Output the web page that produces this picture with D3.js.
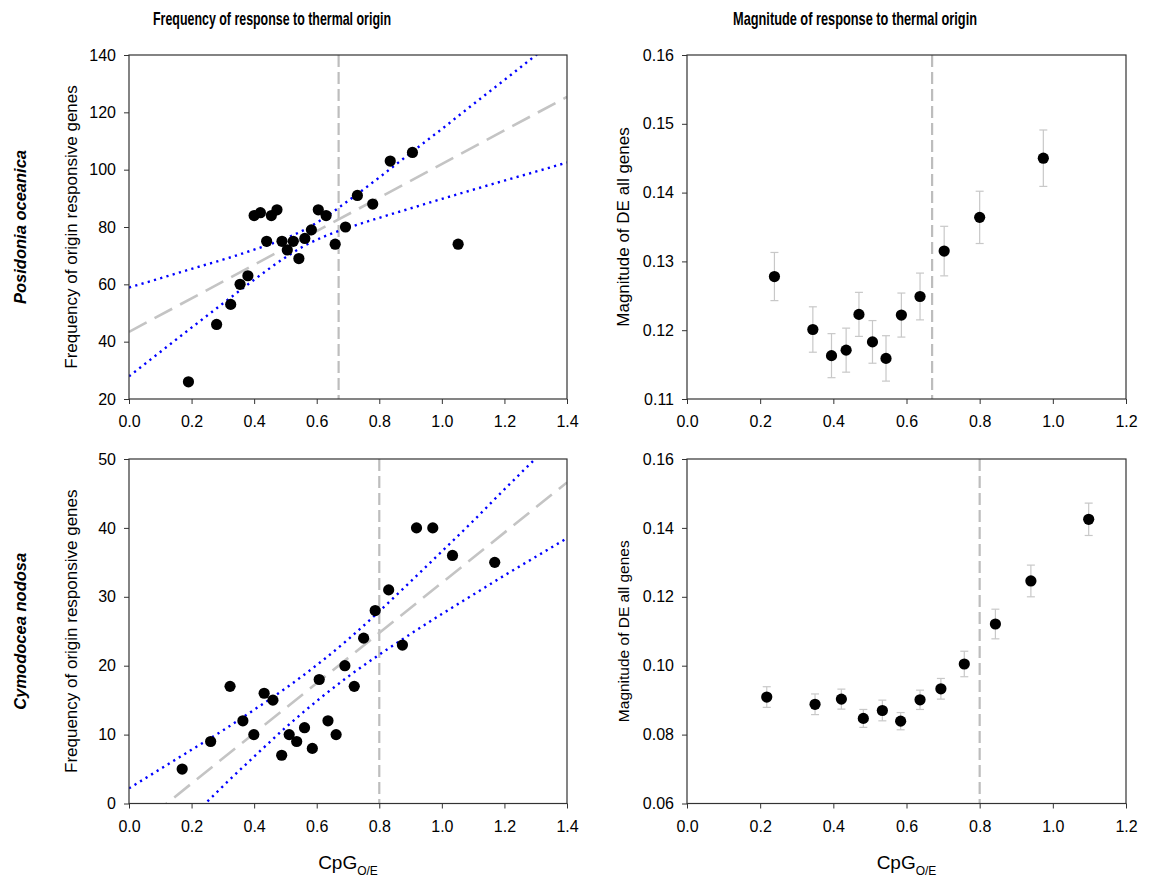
<!DOCTYPE html>
<html><head><meta charset="utf-8">
<script src="https://cdn.jsdelivr.net/npm/d3@7"></script>
<style>
body{margin:0;background:#fff}
text{font-family:"Liberation Sans",Arial,Helvetica,sans-serif;fill:#000}
</style>
</head><body>
<svg id="c" width="1158" height="877"></svg>
<script>
// ---------- DATA ----------
const colTitles = ["Frequency of response to thermal origin", "Magnitude of response to thermal origin"];
const rowTitles = ["Posidonia oceanica", "Cymodocea nodosa"];
const freqYLabel = "Frequency of origin responsive genes";
const magYLabel = "Magnitude of DE all genes";

const xTicksFreq = [0, 0.2, 0.4, 0.6, 0.8, 1.0, 1.2, 1.4];
const xTicksMag = [0, 0.2, 0.4, 0.6, 0.8, 1.0, 1.2];
const yTicksPoFreq = [20, 40, 60, 80, 100, 120, 140];
const yTicksCnFreq = [0, 10, 20, 30, 40, 50];
const yTicksPoMag = [0.11, 0.12, 0.13, 0.14, 0.15, 0.16];
const yTicksCnMag = [0.06, 0.08, 0.10, 0.12, 0.14, 0.16];

// Posidonia oceanica – frequency
const poFreqX = [0.19,0.28,0.325,0.355,0.38,0.40,0.42,0.44,0.455,0.473,0.489,0.506,0.525,0.543,0.562,0.583,0.605,0.63,0.659,0.692,0.73,0.779,0.835,0.906,1.052];
const poFreqY = [26,46,53,60,63,84,85,75,84,86,75,72,75,69,76,79,86,84,74,80,91,88,103,106,74];
const poFitX = [0, 1.4];
const poFitY = [43.4, 125.4];
const poBandX = [0,0.1,0.2,0.3,0.4,0.5,0.562,0.62,0.7,0.8,0.9,1.0,1.1,1.2,1.3,1.4];
const poUpperY = [58.9,62.1,65.4,68.6,72.1,76.0,79.1,82.9,89.1,97.3,105.8,114.2,122.8,131.3,139.9,148.4];
const poLowerY = [27.9,36.4,44.9,53.3,61.6,69.4,73.5,76.5,79.7,83.2,86.5,89.8,93.0,96.2,99.3,102.5];
const poBreak = 0.67;

// Cymodocea nodosa – frequency
const cnFreqX = [0.17,0.261,0.323,0.364,0.399,0.432,0.46,0.488,0.512,0.536,0.561,0.586,0.608,0.636,0.662,0.69,0.72,0.75,0.787,0.83,0.874,0.919,0.971,1.034,1.169];
const cnFreqY = [5,9,17,12,10,16,15,7,10,9,11,8,18,12,10,20,17,24,28,31,23,40,40,36,35];
const cnFitX = [0, 1.4];
const cnFitY = [-4.38, 46.6];
const cnBandX = [0,0.1,0.2,0.3,0.4,0.5,0.62,0.7,0.8,0.9,1.0,1.1,1.2,1.3,1.4];
const cnUpperY = [2.2,5.0,7.8,10.6,13.6,16.7,20.8,23.8,27.9,32.2,36.6,41.0,45.6,50.1,54.7];
const cnLowerY = [-11.0,-6.5,-2.0,2.5,6.8,11.0,15.6,18.4,21.6,24.6,27.5,30.3,33.1,35.8,38.5];
const cnBreak = 0.80;

// Posidonia oceanica – magnitude
const poMagX = [0.239,0.344,0.395,0.435,0.470,0.507,0.544,0.586,0.637,0.703,0.800,0.974];
const poMagY = [0.1278,0.1201,0.1163,0.1171,0.1223,0.1183,0.1159,0.1222,0.1249,0.1315,0.1364,0.1450];
const poMagErr = [0.0035,0.0033,0.0032,0.0032,0.0032,0.0031,0.0033,0.0032,0.0034,0.0036,0.0038,0.0041];

// Cymodocea nodosa – magnitude
const cnMagX = [0.218,0.350,0.422,0.482,0.534,0.584,0.637,0.694,0.758,0.843,0.940,1.098];
const cnMagY = [0.0909,0.0888,0.0903,0.0847,0.0870,0.0839,0.0901,0.0933,0.1005,0.1121,0.1246,0.1425];
const cnMagErr = [0.0030,0.0030,0.0029,0.0026,0.0030,0.0025,0.0028,0.0030,0.0037,0.0043,0.0046,0.0047];

// ---------- DRAW ----------
const svg = d3.select("#c");
const AX = "#333";

function zip(xs, ys){ return xs.map((x,i)=>[x, ys[i]]); }

function panel(cfg, id){
  const x = d3.scaleLinear().domain(cfg.xDom).range([cfg.left, cfg.right]);
  const y = d3.scaleLinear().domain(cfg.yDom).range([cfg.bottom, cfg.top]);
  const g = svg.append("g");
  svg.append("clipPath").attr("id", "clip"+id).append("rect")
    .attr("x", cfg.left).attr("y", cfg.top)
    .attr("width", cfg.right-cfg.left).attr("height", cfg.bottom-cfg.top);
  const inner = g.append("g").attr("clip-path", `url(#clip${id})`);

  // vertical break line
  inner.append("line")
    .attr("x1", x(cfg.brk)).attr("x2", x(cfg.brk))
    .attr("y1", cfg.top).attr("y2", cfg.bottom)
    .attr("stroke", "#bdbdbd").attr("stroke-width", 2.2)
    .attr("stroke-dasharray", "12,5");

  const line = d3.line().x(d=>x(d[0])).y(d=>y(d[1]));
  if (cfg.fit){
    inner.append("path").attr("d", line(zip(cfg.fit[0], cfg.fit[1])))
      .attr("fill","none").attr("stroke","#c4c4c4").attr("stroke-width",2.6)
      .attr("stroke-dasharray","20,9");
    const cl = d3.line().x(d=>x(d[0])).y(d=>y(d[1])).curve(d3.curveMonotoneX);
    [cfg.band[1], cfg.band[2]].forEach(ys=>{
      inner.append("path").attr("d", cl(zip(cfg.band[0], ys)))
        .attr("fill","none").attr("stroke","#0000ff").attr("stroke-width",2.4)
        .attr("stroke-dasharray","2.2,4.3");
    });
  }
  if (cfg.err){
    const eg = inner.append("g").attr("stroke","#c8c8c8").attr("stroke-width",1.2);
    cfg.xs.forEach((xv,i)=>{
      const cx = x(xv), t = y(cfg.ys[i]+cfg.err[i]), b = y(cfg.ys[i]-cfg.err[i]);
      eg.append("line").attr("x1",cx).attr("x2",cx).attr("y1",t).attr("y2",b);
      eg.append("line").attr("x1",cx-4).attr("x2",cx+4).attr("y1",t).attr("y2",t);
      eg.append("line").attr("x1",cx-4).attr("x2",cx+4).attr("y1",b).attr("y2",b);
    });
  }
  inner.selectAll("circle.pt").data(zip(cfg.xs, cfg.ys)).enter().append("circle")
    .attr("cx", d=>x(d[0])).attr("cy", d=>y(d[1])).attr("r", 5.6).attr("fill","#000");

  // axes
  const xa = g.append("g").attr("transform", `translate(0,${cfg.bottom})`)
    .call(d3.axisBottom(x).tickValues(cfg.xTicks).tickFormat(d3.format(".1f")).tickSize(5).tickPadding(12));
  const ya = g.append("g").attr("transform", `translate(${cfg.left},0)`)
    .call(d3.axisLeft(y).tickValues(cfg.yTicks).tickFormat(d3.format(cfg.yFmt)).tickSize(5).tickPadding(8));
  [xa, ya].forEach(a=>{
    a.select(".domain").remove();
    a.selectAll("line").attr("stroke", AX);
    a.selectAll("text").attr("font-size", 16).attr("fill","#000")
      .style("font-family", '"Liberation Sans", Arial, sans-serif');
  });
  g.append("rect").attr("x", cfg.left).attr("y", cfg.top)
    .attr("width", cfg.right-cfg.left).attr("height", cfg.bottom-cfg.top)
    .attr("fill","none").attr("stroke", AX).attr("stroke-width", 1.2);

  // y label
  g.append("text").attr("transform", `translate(${cfg.ylx},${(cfg.top+cfg.bottom)/2}) rotate(-90)`)
    .attr("text-anchor","middle").attr("font-size", cfg.ylSize).text(cfg.ylabel);
  if (cfg.xlabel){
    const t = g.append("text").attr("x", (cfg.left+cfg.right)/2).attr("y", 869)
      .attr("text-anchor","middle").attr("font-size", 19);
    t.append("tspan").text("CpG");
    t.append("tspan").attr("font-size", 12).attr("dy", 6).text("O/E");
  }
}

const L = {left:129, right:567}, R = {left:687, right:1126};
const T = {top:55, bottom:399}, B = {top:459, bottom:803.5};

panel(Object.assign({}, L, T, {xDom:[0,1.4], yDom:[20,140], xTicks:xTicksFreq, yTicks:yTicksPoFreq, yFmt:"d",
  xs:poFreqX, ys:poFreqY, fit:[poFitX, poFitY], band:[poBandX, poUpperY, poLowerY], brk:poBreak,
  ylabel:freqYLabel, ylx:77, ylSize:17}), 1);
panel(Object.assign({}, R, T, {xDom:[0,1.2], yDom:[0.11,0.16], xTicks:xTicksMag, yTicks:yTicksPoMag, yFmt:".2f",
  xs:poMagX, ys:poMagY, err:poMagErr, brk:poBreak,
  ylabel:magYLabel, ylx:629, ylSize:17}), 2);
panel(Object.assign({}, L, B, {xDom:[0,1.4], yDom:[0,50], xTicks:xTicksFreq, yTicks:yTicksCnFreq, yFmt:"d",
  xs:cnFreqX, ys:cnFreqY, fit:[cnFitX, cnFitY], band:[cnBandX, cnUpperY, cnLowerY], brk:cnBreak,
  ylabel:freqYLabel, ylx:77, ylSize:17, xlabel:true}), 3);
panel(Object.assign({}, R, B, {xDom:[0,1.2], yDom:[0.06,0.16], xTicks:xTicksMag, yTicks:yTicksCnMag, yFmt:".2f",
  xs:cnMagX, ys:cnMagY, err:cnMagErr, brk:cnBreak,
  ylabel:magYLabel, ylx:629, ylSize:15.5, xlabel:true}), 4);

// column titles
const tFont = '"Liberation Sans Narrow","Arial Narrow","Liberation Sans",Arial,sans-serif';
[[272, 238], [855, 244]].forEach((p,i)=>{
  svg.append("text").attr("x", p[0]).attr("y", 25).attr("text-anchor","middle")
    .attr("font-size", 18.5).attr("font-weight","bold").style("font-family", tFont)
    .attr("textLength", p[1]).attr("lengthAdjust","spacingAndGlyphs")
    .text(colTitles[i]);
});
// row titles
[(T.top+T.bottom)/2, (B.top+B.bottom)/2].forEach((cy,i)=>{
  svg.append("text").attr("transform", `translate(26,${cy}) rotate(-90)`)
    .attr("text-anchor","middle").attr("font-size", 16.5).attr("font-weight","bold")
    .attr("font-style","italic").text(rowTitles[i]);
});
</script>
</body></html>
